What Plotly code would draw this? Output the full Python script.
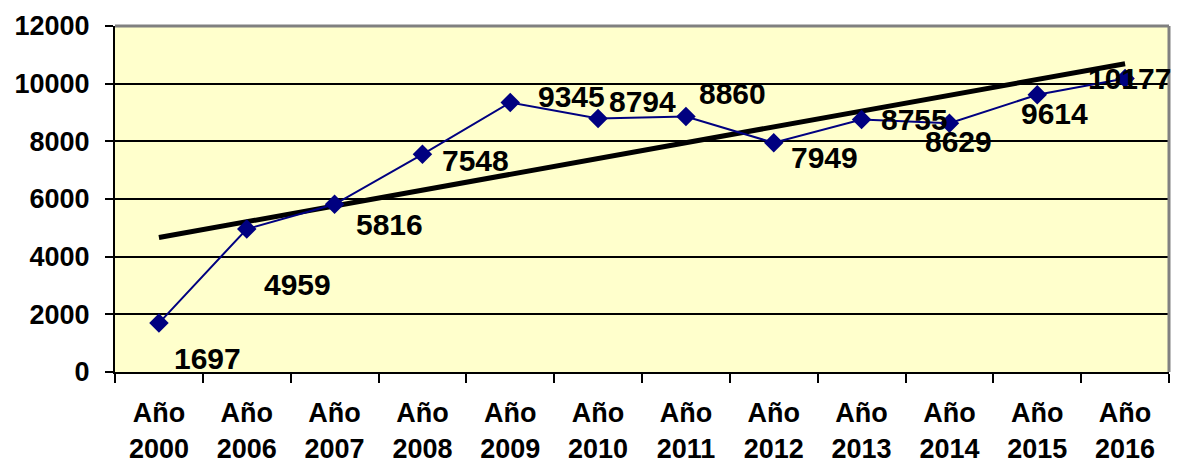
import numpy as np
import plotly.graph_objects as go

years = ["2000", "2006", "2007", "2008", "2009", "2010", "2011", "2012", "2013", "2014", "2015", "2016"]
values = [1697, 4959, 5816, 7548, 9345, 8794, 8860, 7949, 8755, 8629, 9614, 10177]
categories = ["Año<br>" + y for y in years]

# label offsets in px (Excel-like placement)
label_dx = [49, 51, 55, 53, 61, 44, 47, 51, 53, 9, 17, 4]
label_dy = [35, 55, 20, 6, -6, -17, -23, 15, 0, 18, 19, 0]

NAVY = "#000080"
FONT = "Liberation Sans, Arial, sans-serif"

idx = np.arange(len(values))
slope, intercept = np.polyfit(idx, values, 1)
trend = slope * idx + intercept

fig = go.Figure()
fig.add_trace(go.Scatter(x=categories, y=trend, mode="lines",
                         line=dict(color="black", width=5), hoverinfo="skip"))
fig.add_trace(go.Scatter(x=categories, y=values, mode="lines+markers",
                         line=dict(color=NAVY, width=2),
                         marker=dict(symbol="diamond", size=15, color=NAVY)))

for c, v, dx, dy in zip(categories, values, label_dx, label_dy):
    fig.add_annotation(x=c, y=v, text=str(v), showarrow=False,
                       xshift=dx, yshift=-dy,
                       font=dict(family=FONT, size=30, color="black", weight="bold"))

# page body has an 8px margin, so the figure is sized to fit the window
fig.update_layout(
    width=1176, height=455,
    margin=dict(l=107, r=15, t=18, b=91),
    paper_bgcolor="white", plot_bgcolor="#FFFFCC",
    showlegend=False,
    font=dict(family=FONT, color="black"),
)
fig.update_xaxes(type="category", range=[-0.5, 11.5], tickson="boundaries",
                 ticks="outside", ticklen=9, tickwidth=2, tickcolor="black",
                 showline=True, linecolor="black", linewidth=2,
                 showgrid=False, ticklabelstandoff=16, automargin=False,
                 tickfont=dict(family=FONT, size=27, weight="bold"))
fig.update_yaxes(range=[0, 12000], dtick=2000, tickformat="d",
                 ticks="outside", ticklen=8, tickwidth=2, tickcolor="black",
                 showline=True, linecolor="black", linewidth=2,
                 showgrid=True, gridcolor="black", gridwidth=2,
                 zeroline=False, ticklabelstandoff=10, automargin=False,
                 tickfont=dict(family=FONT, size=27, weight="bold"))

fig.add_shape(type="line", xref="paper", yref="paper", x0=0, x1=1, y0=1, y1=1,
              line=dict(color="#808080", width=3))
fig.add_shape(type="line", xref="paper", yref="paper", x0=1, x1=1, y0=0, y1=1,
              line=dict(color="#808080", width=3))

fig.write_html("out.html")
